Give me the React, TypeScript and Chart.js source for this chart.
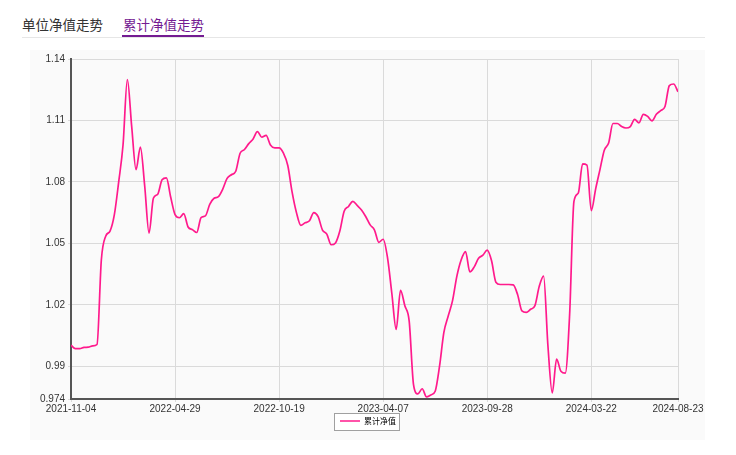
import React, { useEffect, useRef } from 'react';
import { Chart, registerables } from 'chart.js';

Chart.register(...registerables);

const tabLabels = ['单位净值走势', '累计净值走势'];
const seriesName = '累计净值';
const xTickIndex = [0, 24, 48, 72, 96, 120, 140];
const xTickLabels = ['2021-11-04', '2022-04-29', '2022-10-19', '2023-04-07', '2023-09-28', '2024-03-22', '2024-08-23'];
const yTickValues = [0.974, 0.99, 1.02, 1.05, 1.08, 1.11, 1.14];
const yTickLabels = ['0.974', '0.99', '1.02', '1.05', '1.08', '1.11', '1.14'];
const navValues = [
  1.0003, 0.9986, 0.9986, 0.9992, 0.9993, 0.9999, 1.0006, 1.042, 1.0535, 1.056,
  1.064, 1.080, 1.098, 1.130, 1.107, 1.086, 1.097, 1.078, 1.055, 1.072,
  1.074, 1.081, 1.082, 1.0725, 1.064, 1.0625, 1.0645, 1.058, 1.0567, 1.0553,
  1.0626, 1.0634, 1.069, 1.072, 1.0728, 1.0765, 1.0817, 1.0835, 1.0852, 1.094,
  1.0958, 1.0987, 1.101, 1.1045, 1.1018, 1.1027, 1.098, 1.0966, 1.0966, 1.094,
  1.088, 1.075, 1.065, 1.0588, 1.060, 1.061, 1.065, 1.063, 1.0565, 1.0545,
  1.0493, 1.0502, 1.056, 1.0657, 1.068, 1.0705, 1.0685, 1.0663, 1.063, 1.059,
  1.0565, 1.0505, 1.052, 1.043, 1.0255, 1.008, 1.027, 1.0195, 1.012, 0.981,
  0.9765, 0.979, 0.975, 0.976, 0.9778, 0.990, 1.0065, 1.0145, 1.022, 1.034,
  1.042, 1.046, 1.036, 1.0385, 1.0427, 1.0442, 1.0467, 1.0415, 1.031, 1.0299,
  1.0299, 1.0299, 1.0297, 1.025, 1.017, 1.0163, 1.0178, 1.0196, 1.029, 1.034,
  1.000, 0.977, 0.9935, 0.9875, 0.9866, 1.015, 1.0705, 1.0745, 1.0888, 1.0882,
  1.066, 1.0765, 1.086, 1.0955, 1.099, 1.1085, 1.1085, 1.107, 1.1063, 1.107,
  1.1105, 1.1088, 1.113, 1.112, 1.1098, 1.113, 1.1148, 1.1168, 1.127, 1.1278,
  1.124,
];

const LINE_COLOR = '#ff1a8c';
const PURPLE = '#741b92';
const TICK_FONT = { family: "'Liberation Sans', Arial, sans-serif", size: 10 };

const legendBorder = {
  id: 'legendBorder',
  afterLayout(chart: any) {
    const lg = chart.legend;
    if (!lg) return;
    // centre the legend on the whole canvas width
    lg.left = 14;
    lg.right = 662;
  },
  beforeDraw(chart: any) {
    const lg = chart.legend;
    if (!lg || !lg.legendHitBoxes || !lg.legendHitBoxes.length) return;
    const b = lg.legendHitBoxes[0];
    const ctx = chart.ctx;
    const x = Math.round(b.left - 6) + 0.5;
    const y = Math.round(b.top - 4) + 0.5;
    const w = Math.round(b.width + 9);
    const h = Math.round(b.height + 9);
    ctx.save();
    ctx.fillStyle = '#ffffff';
    ctx.fillRect(x, y, w, h);
    ctx.strokeStyle = '#a0a0a0';
    ctx.lineWidth = 1;
    ctx.strokeRect(x, y, w, h);
    ctx.restore();
  },
};

function NavChart() {
  const ref = useRef<HTMLCanvasElement | null>(null);
  useEffect(() => {
    if (!ref.current) return;
    const points = navValues.map((v, i) => ({ x: i, y: v }));
    const chart = new Chart(ref.current, {
      type: 'line',
      data: {
        datasets: [
          {
            label: seriesName,
            data: points,
            borderColor: LINE_COLOR,
            backgroundColor: LINE_COLOR,
            borderWidth: 1.7,
            pointRadius: 0,
            cubicInterpolationMode: 'monotone',
            fill: false,
          },
        ],
      },
      options: {
        animation: false,
        responsive: false,
        maintainAspectRatio: false,
        layout: { padding: { left: 0, right: 27, top: 7, bottom: 5 } },
        plugins: {
          tooltip: { enabled: false },
          legend: {
            position: 'bottom',
            labels: {
              boxWidth: 20,
              boxHeight: 1.5,
              padding: 4,
              color: '#333',
              font: { family: "'Noto Sans CJK SC', sans-serif", size: 8 },
              generateLabels: () => [
                {
                  text: seriesName,
                  fillStyle: LINE_COLOR,
                  strokeStyle: LINE_COLOR,
                  lineWidth: 0,
                  hidden: false,
                  datasetIndex: 0,
                },
              ],
            },
          },
        },
        scales: {
          x: {
            type: 'linear',
            min: 0,
            max: navValues.length - 1,
            afterBuildTicks: (scale: any) => {
              scale.ticks = xTickIndex.map((v) => ({ value: v }));
            },
            afterFit: (scale: any) => {
              scale.height = 14;
            },
            ticks: {
              autoSkip: false,
              maxRotation: 0,
              padding: 1,
              color: '#333',
              font: TICK_FONT,
              callback: (v: any) => {
                const k = xTickIndex.indexOf(Number(v));
                return k >= 0 ? xTickLabels[k] : '';
              },
            },
            grid: { color: '#dadada', lineWidth: 1, tickLength: 3 },
            border: { color: '#555', width: 2 },
          },
          y: {
            type: 'linear',
            min: 0.974,
            max: 1.14,
            afterBuildTicks: (scale: any) => {
              scale.ticks = yTickValues.map((v) => ({ value: v }));
            },
            afterFit: (scale: any) => {
              scale.width = 41;
            },
            ticks: {
              autoSkip: false,
              padding: 3,
              color: '#333',
              font: TICK_FONT,
              callback: (v: any) => {
                const k = yTickValues.findIndex((t) => Math.abs(t - Number(v)) < 1e-9);
                return k >= 0 ? yTickLabels[k] : '';
              },
            },
            grid: { color: '#dadada', lineWidth: 1, tickLength: 3 },
            border: { color: '#555', width: 2 },
          },
        },
      },
      plugins: [legendBorder],
    } as any);
    return () => chart.destroy();
  }, []);
  return <canvas ref={ref} width={675} height={390} style={{ display: 'block', width: 675, height: 390 }} />;
}

export default function App() {
  const tabStyle: React.CSSProperties = {
    position: 'absolute',
    top: 8,
    fontFamily: "'Noto Sans CJK SC', sans-serif",
    fontSize: 13.5,
    lineHeight: '16px',
    whiteSpace: 'nowrap',
  };
  return (
    <div style={{ position: 'relative', width: 720, height: 440, background: '#fff' }}>
      <div style={{ ...tabStyle, left: 14, color: '#333' }}>{tabLabels[0]}</div>
      <div style={{ ...tabStyle, left: 115, color: PURPLE }}>{tabLabels[1]}</div>
      <div style={{ position: 'absolute', left: 14, top: 29, width: 683, height: 1, background: '#e6e6e6' }} />
      <div style={{ position: 'absolute', left: 114, top: 27, width: 82, height: 2, background: PURPLE }} />
      <div style={{ position: 'absolute', left: 22, top: 42, width: 675, height: 390, background: '#fafafa' }}>
        <NavChart />
      </div>
    </div>
  );
}
